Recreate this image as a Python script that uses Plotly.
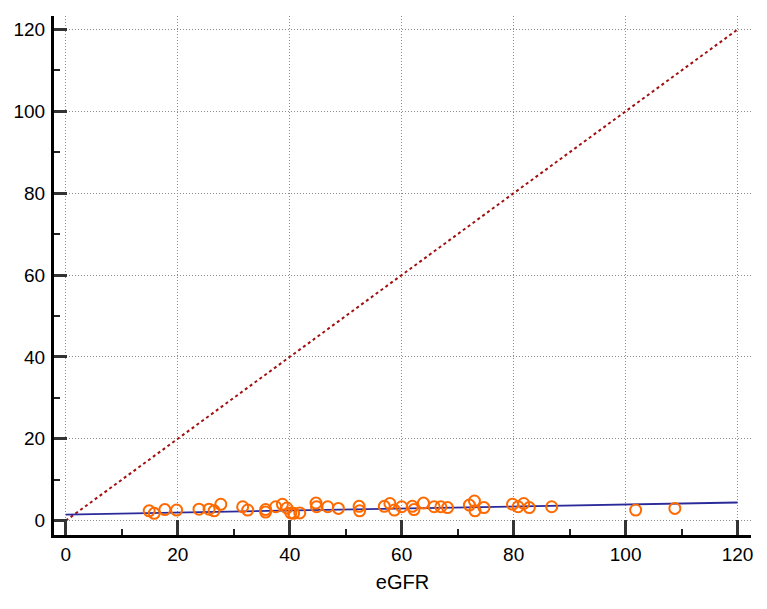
import numpy as np
import plotly.graph_objects as go

# Data
egfr = [14.9, 15.8, 17.7, 19.8, 23.8, 25.6, 26.5, 27.7, 31.6, 32.5,
        35.7, 35.7, 37.5, 38.7, 39.5, 40.2, 40.7, 41.8, 44.7, 44.8,
        46.8, 48.7, 52.4, 52.5, 56.9, 57.9, 58.7, 60.0, 61.9, 62.2,
        63.9, 65.8, 67.0, 68.2, 72.1, 73.0, 73.1, 74.7, 79.8, 80.8,
        81.8, 82.8, 86.8, 101.8, 108.8]
measured = [2.4, 1.8, 2.7, 2.6, 2.8, 2.8, 2.4, 4.0, 3.4, 2.6,
            2.7, 2.1, 3.4, 4.0, 3.1, 1.9, 1.8, 1.9, 4.3, 3.4,
            3.4, 3.0, 3.5, 2.4, 3.5, 4.2, 2.6, 3.4, 3.5, 2.7,
            4.3, 3.4, 3.4, 3.2, 3.8, 4.8, 2.4, 3.2, 4.0, 3.4,
            4.2, 3.2, 3.4, 2.6, 3.0]

identity_range = [0, 120]
reg_intercept = 1.5
reg_slope = 0.0245

xticks = [0, 20, 40, 60, 80, 100, 120]
yticks = [0, 20, 40, 60, 80, 100, 120]

reg_x = np.array(identity_range, dtype=float)
reg_y = reg_intercept + reg_slope * reg_x

fig = go.Figure()
fig.add_trace(go.Scatter(
    x=identity_range, y=identity_range, mode="lines",
    line=dict(color="#a01010", width=2, dash="dot"), hoverinfo="skip"))
fig.add_trace(go.Scatter(
    x=reg_x, y=reg_y, mode="lines",
    line=dict(color="#2a2a9a", width=1.8), hoverinfo="skip"))
fig.add_trace(go.Scatter(
    x=egfr, y=measured, mode="markers",
    marker=dict(symbol="circle-open", size=11, color="#ff6a00",
                line=dict(width=2, color="#ff6a00"))))

font_family = "Liberation Sans, Arial, sans-serif"
axis_common = dict(
    showline=True, linecolor="black", linewidth=3, mirror=False,
    ticks="inside", tickcolor="#333333", tickwidth=3,
    showgrid=True, gridcolor="#8c8c8c", griddash="1px,2px", gridwidth=1,
    zeroline=False, automargin=False,
    tickfont=dict(family=font_family, size=19, color="black"),
    minor=dict(ticks="inside", ticklen=6, tickwidth=1.5, tickcolor="#222222",
               dtick=10, showgrid=False),
)

fig.update_layout(
    width=767, height=609,
    margin=dict(l=46, r=24, t=8, b=82),
    plot_bgcolor="white", paper_bgcolor="white",
    showlegend=False,
    xaxis=dict(axis_common, range=[-2.1, 122.4], tickvals=xticks, ticklen=15,
               title=dict(text="eGFR", standoff=12,
                          font=dict(family=font_family, size=20, color="black"))),
    yaxis=dict(axis_common, range=[-3.5, 123.3], tickvals=yticks, ticklen=13,
               ticklabelstandoff=2),
)

fig.write_html("out.html")
